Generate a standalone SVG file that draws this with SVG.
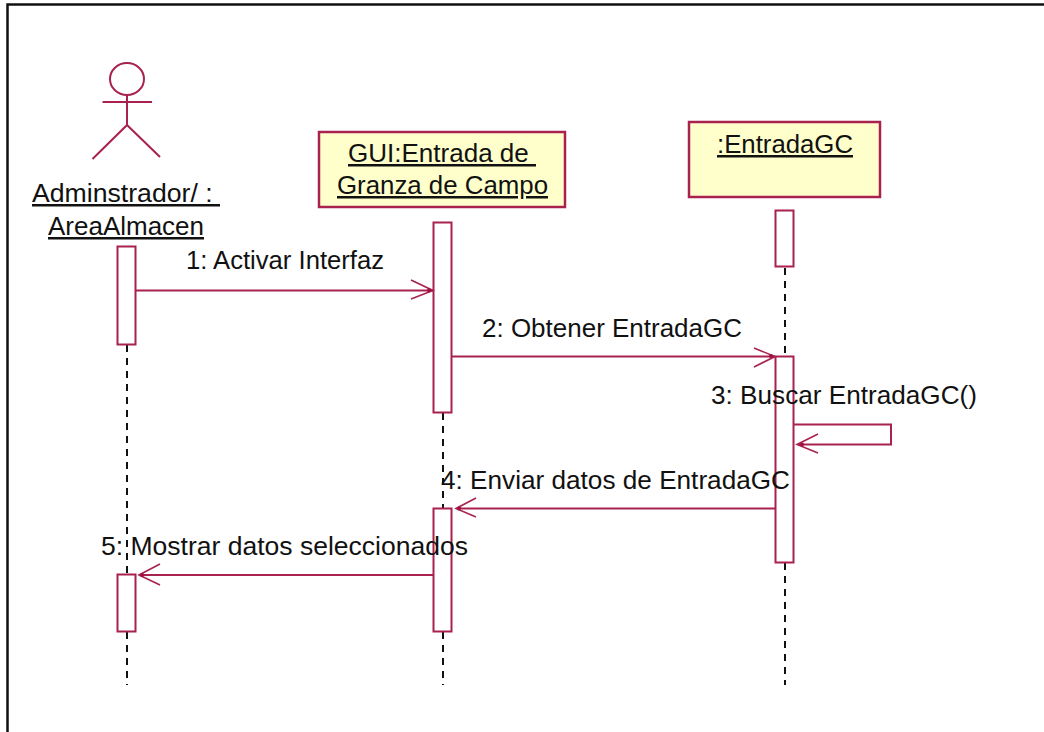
<svg xmlns="http://www.w3.org/2000/svg" width="1044" height="732" viewBox="0 0 1044 732">
<style>
.l{fill:none;stroke:#a8214f;stroke-width:2}
.box{fill:#ffffcc;stroke:#a8214f;stroke-width:2.5}
.act{fill:#fff;stroke:#a8214f;stroke-width:2}
.life{fill:none;stroke:#111;stroke-width:2;stroke-dasharray:7 6}
.b{fill:none;stroke:#a8214f;stroke-width:1.6}
.tip{fill:#a01045}
text{font-family:"Liberation Sans",Arial,sans-serif;font-size:25px;fill:#111}
.u{text-decoration:underline}
</style>
<rect width="1044" height="732" fill="#fff"/>
<path id="frame" d="M1044 4.500H7.500V732" fill="none" stroke="#111" stroke-width="2.500"/>
<g id="lifelines">
<path class="life" d="M127 345V574M127 632V685"/>
<path class="life" d="M443 413V508M443 632V685"/>
<path class="life" d="M785 268V356M785 563V685"/>
</g>
<g id="actor">
<ellipse class="l" cx="127" cy="79" rx="17" ry="16"/>
<path class="l" d="M102.500 102H152M127 95V125L92.500 159M127 125L160 157"/>
<text class="u" x="32" y="202" textLength="188" lengthAdjust="spacingAndGlyphs" xml:space="preserve">Adminstrador/ : </text>
<text class="u" x="48" y="235" textLength="156" lengthAdjust="spacingAndGlyphs">AreaAlmacen</text>
</g>
<g id="gui">
<rect class="box" x="319" y="132" width="246" height="75"/>
<text class="u" x="348" y="162" textLength="188" lengthAdjust="spacingAndGlyphs" xml:space="preserve">GUI:Entrada de </text>
<text class="u" x="337" y="194" textLength="211" lengthAdjust="spacingAndGlyphs">Granza de Campo</text>
</g>
<g id="entrada">
<rect class="box" x="689" y="122" width="191" height="75"/>
<text class="u" x="717" y="153" textLength="136" lengthAdjust="spacingAndGlyphs">:EntradaGC</text>
</g>
<g id="activations">
<rect class="act" x="117.500" y="246.500" width="18" height="98"/>
<rect class="act" x="117.500" y="574.500" width="18" height="57"/>
<rect class="act" x="433.500" y="222.500" width="18" height="190"/>
<rect class="act" x="433.500" y="508.500" width="18" height="123"/>
<rect class="act" x="775.500" y="210.500" width="18" height="56"/>
<rect class="act" x="775.500" y="356.500" width="18" height="206"/>
</g>
<g id="connectors">
<path class="l" d="M135 290.500H433"/>
<path class="b" d="M411 280L433 290.500L411 299"/>
<path class="l" d="M452 356.500H775"/>
<path class="b" d="M754 348L775 356.500L754 367"/>
<path class="l" d="M793 424.500H891V444.500H798"/>
<path class="b" d="M818 434L797 444.500L818 453"/>
<path class="l" d="M775 508.500H458"/>
<path class="b" d="M476 498L456 508.500L476 517"/>
<path class="l" d="M433 575H141"/>
<path class="b" d="M160 564L139 575L160 585"/>
<circle class="tip" cx="429" cy="290.500" r="2"/>
<circle class="tip" cx="771" cy="356" r="2"/>
<circle class="tip" cx="802" cy="444.500" r="2"/>
<circle class="tip" cx="459" cy="508.500" r="2"/>
<circle class="tip" cx="142" cy="575" r="2"/>
</g>
<g id="labels">
<text x="186" y="269" textLength="198" lengthAdjust="spacingAndGlyphs">1: Activar Interfaz</text>
<text x="482" y="337" textLength="260" lengthAdjust="spacingAndGlyphs">2: Obtener EntradaGC</text>
<text x="711" y="404" textLength="266" lengthAdjust="spacingAndGlyphs">3: Buscar EntradaGC()</text>
<text x="441" y="489" textLength="349" lengthAdjust="spacingAndGlyphs">4: Enviar datos de EntradaGC</text>
<text x="101" y="555" textLength="367" lengthAdjust="spacingAndGlyphs">5: Mostrar datos seleccionados</text>
</g>
</svg>
